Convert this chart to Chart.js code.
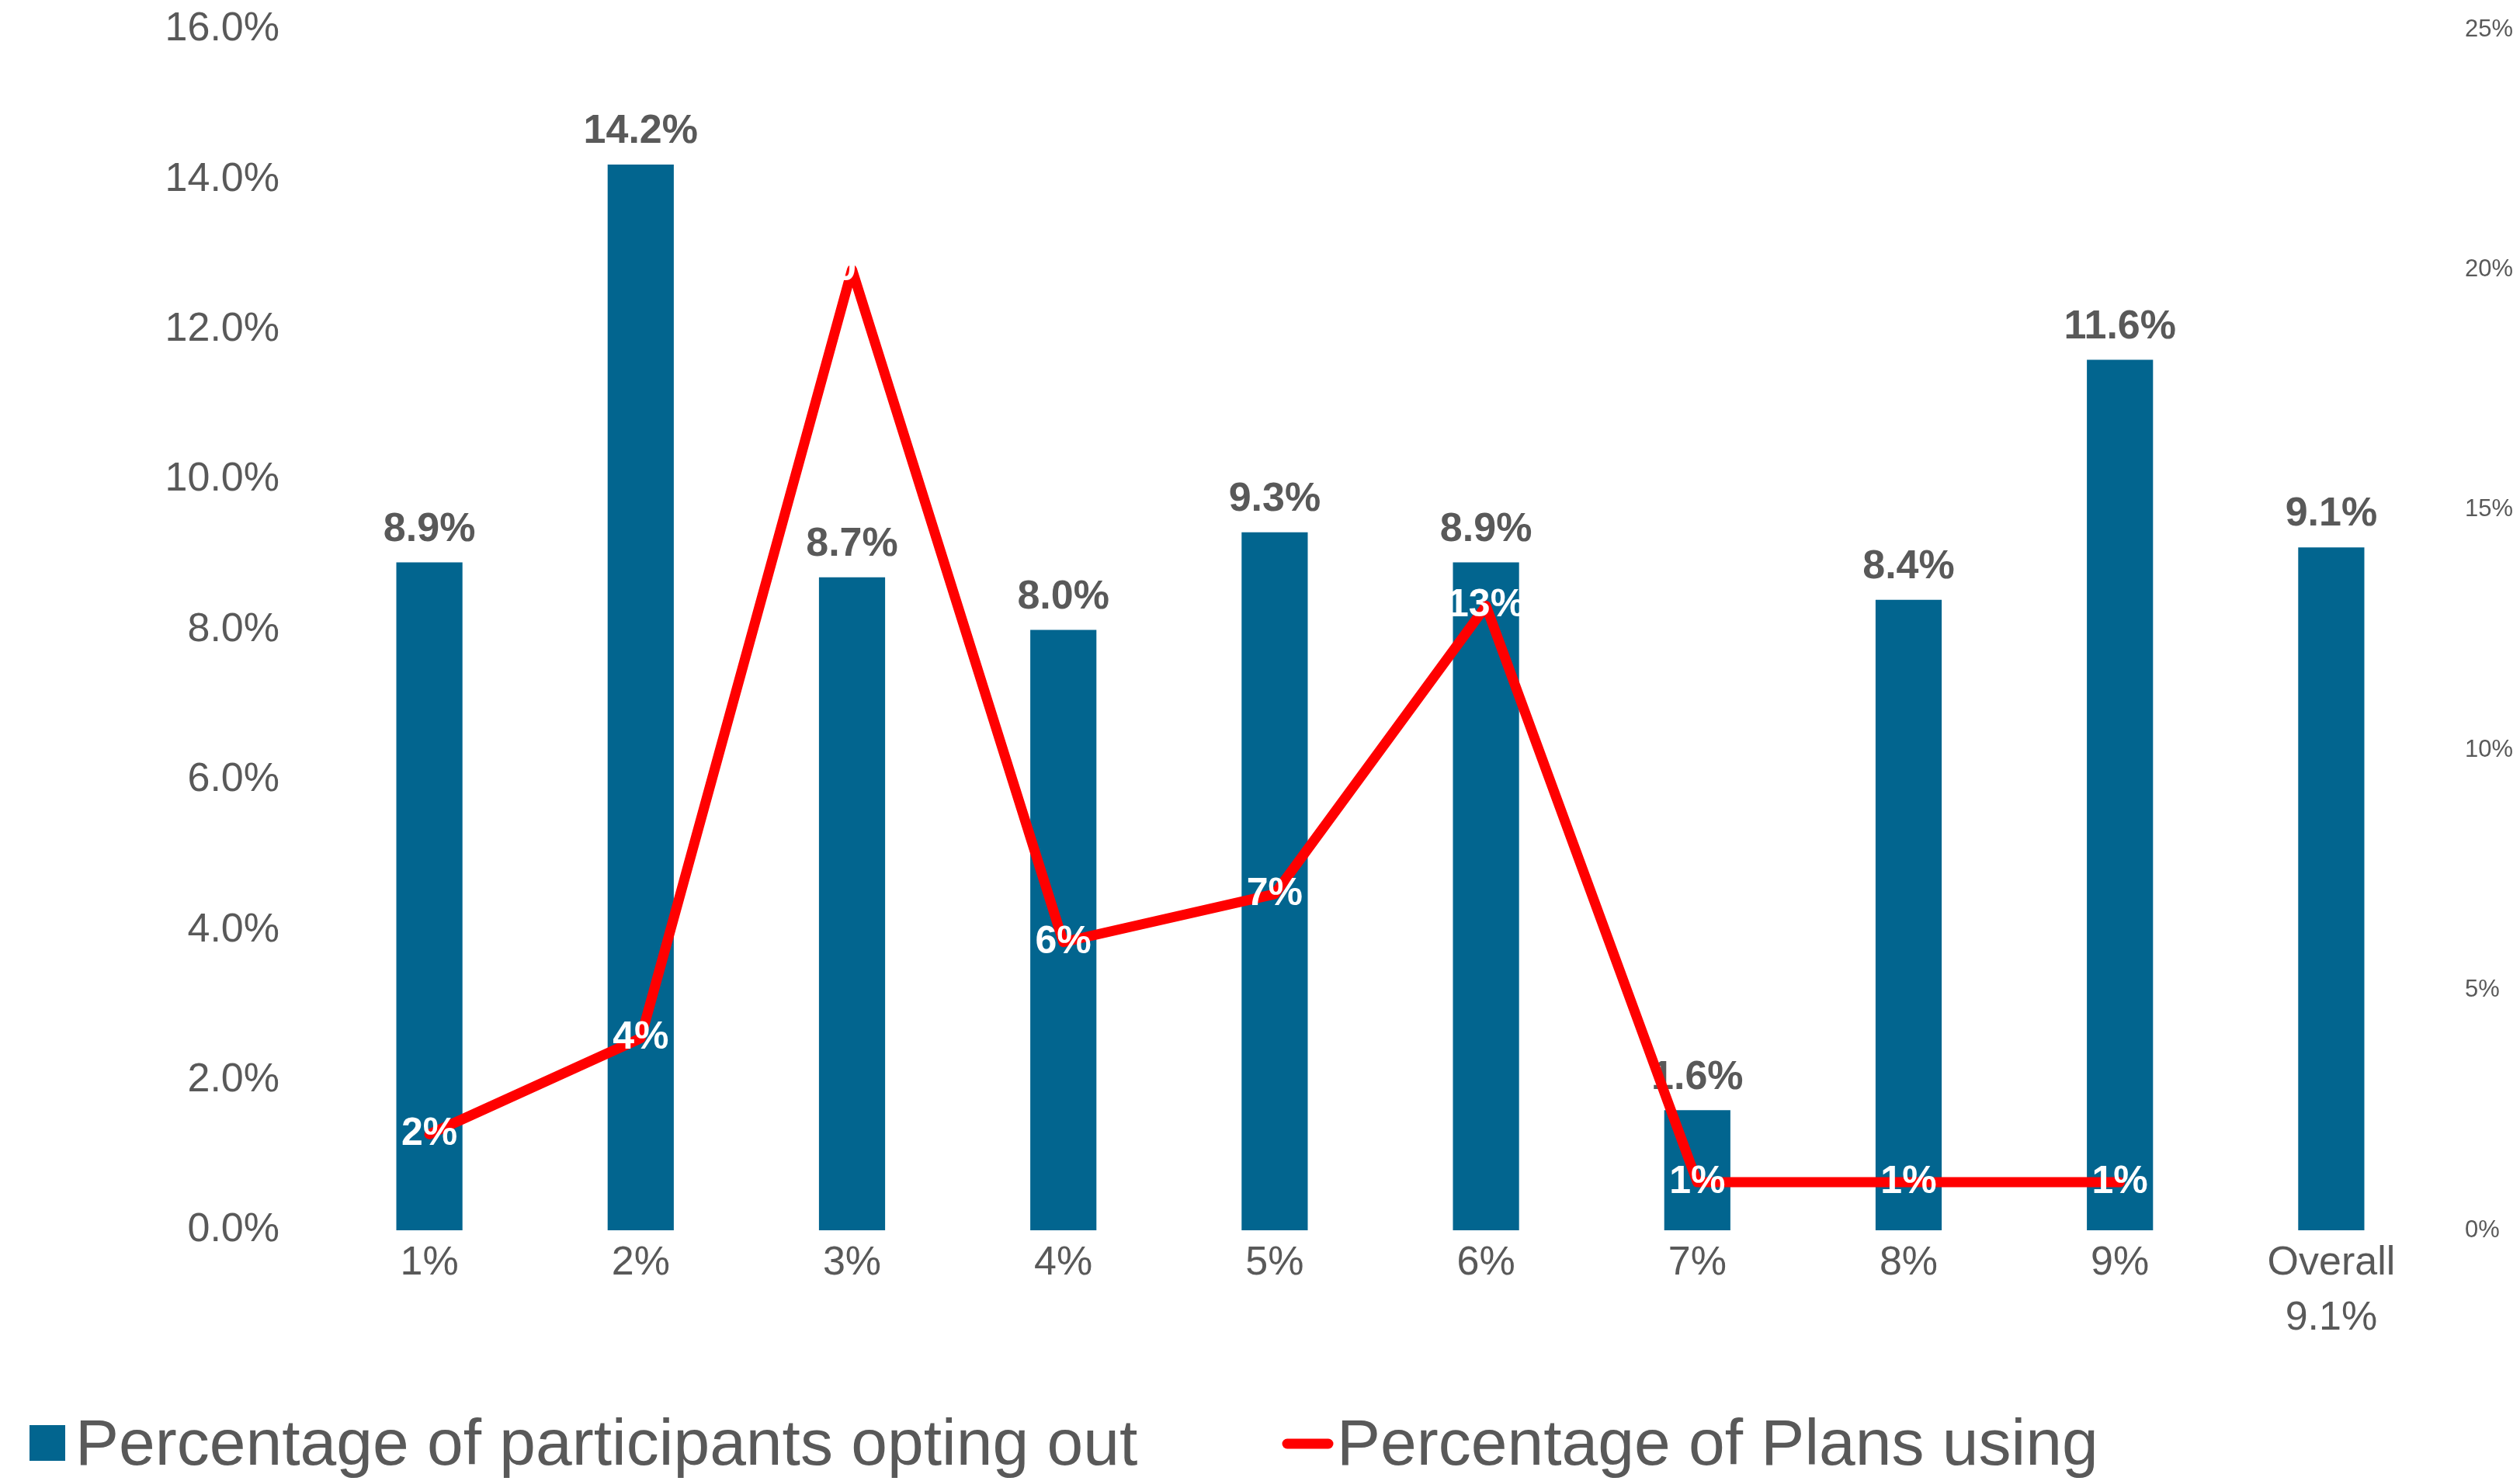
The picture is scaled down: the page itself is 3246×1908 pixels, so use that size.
<!DOCTYPE html>
<html>
<head>
<meta charset="utf-8">
<title>Opt-out rates by default contribution rate</title>
<script src="https://cdn.jsdelivr.net/npm/chart.js@4/dist/chart.umd.min.js"></script>
<style>
  html,body{margin:0;padding:0;background:#fff;}
  canvas{display:block;}
</style>
</head>
<body>
<canvas id="optChart" width="3246" height="1908"></canvas>
<script>
const categories = ["1%","2%","3%","4%","5%","6%","7%","8%","9%",["Overall","9.1%"]];
const optingOut = [8.9,14.2,8.7,8.0,9.3,8.9,1.6,8.4,11.6,9.1];
const plansUsing = [2,4,20,6,7,13,1,1,1,null];
const leftTicks = {min:0,max:16,step:2};
const rightTicks = {min:0,max:25,step:5};
const seriesNames = ["Percentage of participants opting out","Percentage of Plans using"];

const BLUE="#02658F", RED="#FF0000", GREY="#595959";
const FONT="'Liberation Sans', Arial, Helvetica, sans-serif";

// value labels: grey above bars, white centred on the line points
const valueLabels = {
  id:"valueLabels",
  afterDatasetDraw(chart,args){
    const ctx=chart.ctx, ds=chart.data.datasets[args.index];
    ctx.save();
    ctx.textAlign="center"; ctx.textBaseline="middle";
    args.meta.data.forEach((el,i)=>{
      const v=ds.data[i];
      if(v===null||v===undefined) return;
      if(ds.type==="bar"){
        ctx.font="bold 52px "+FONT; ctx.fillStyle=GREY;
        ctx.fillText(v.toFixed(1)+"%",el.x,el.y-42);
      } else {
        ctx.font="bold 50px "+FONT; ctx.fillStyle="#fff";
        ctx.fillText(Math.round(v)+"%",el.x,el.y);
      }
    });
    ctx.restore();
  }
};

// legend along the bottom edge
const bottomLegend = {
  id:"bottomLegend",
  afterDraw(chart){
    const ctx=chart.ctx, sets=chart.data.datasets;
    ctx.save();
    ctx.font="84px "+FONT; ctx.textBaseline="alphabetic"; ctx.textAlign="left";
    const bar=sets.find(d=>d.type==="bar"), line=sets.find(d=>d.type==="line");
    ctx.fillStyle=bar.backgroundColor; ctx.fillRect(38,1836,46,46);
    ctx.fillStyle=GREY; ctx.fillText(bar.label,97,1887);
    ctx.strokeStyle=line.borderColor; ctx.lineWidth=13; ctx.lineCap="round";
    ctx.beginPath(); ctx.moveTo(1658,1860); ctx.lineTo(1711,1860); ctx.stroke();
    ctx.fillText(line.label,1722,1887);
    ctx.restore();
  }
};

// fixed axis widths; drop the extra label padding so the plot spans the full height
const fixY = w => s => { s.width=w; s.paddingTop=0; s.paddingBottom=0; };

new Chart(document.getElementById("optChart"),{
  data:{
    labels:categories,
    datasets:[
      {type:"bar",label:seriesNames[0],data:optingOut,backgroundColor:BLUE,yAxisID:"y",order:1,
        categoryPercentage:1,barPercentage:0.313},
      {type:"line",label:seriesNames[1],data:plansUsing,borderColor:RED,borderWidth:13,yAxisID:"y1",order:0,
        pointRadius:0,borderJoinStyle:"round",borderCapStyle:"round",tension:0,spanGaps:false}
    ]
  },
  options:{
    responsive:false,animation:false,
    layout:{padding:{top:38,bottom:123,left:0,right:0}},
    plugins:{legend:{display:false},tooltip:{enabled:false}},
    scales:{
      x:{
        grid:{display:false},border:{display:false},
        ticks:{color:GREY,padding:0,font:{family:FONT,size:52,lineHeight:1.35},maxRotation:0,autoSkip:false},
        afterFit:s=>{s.height=200;}
      },
      y:{
        position:"left",min:leftTicks.min,max:leftTicks.max,
        grid:{display:false},border:{display:false},
        ticks:{stepSize:leftTicks.step,color:GREY,padding:49,font:{family:FONT,size:52},callback:v=>v.toFixed(1)+"%"},
        afterFit:fixY(417)
      },
      y1:{
        position:"right",min:rightTicks.min,max:rightTicks.max,
        grid:{display:false},border:{display:false},
        ticks:{stepSize:rightTicks.step,color:GREY,padding:28,font:{family:FONT,size:31},callback:v=>v+"%"},
        afterFit:fixY(107)
      }
    }
  },
  plugins:[valueLabels,bottomLegend]
});
</script>
</body>
</html>
